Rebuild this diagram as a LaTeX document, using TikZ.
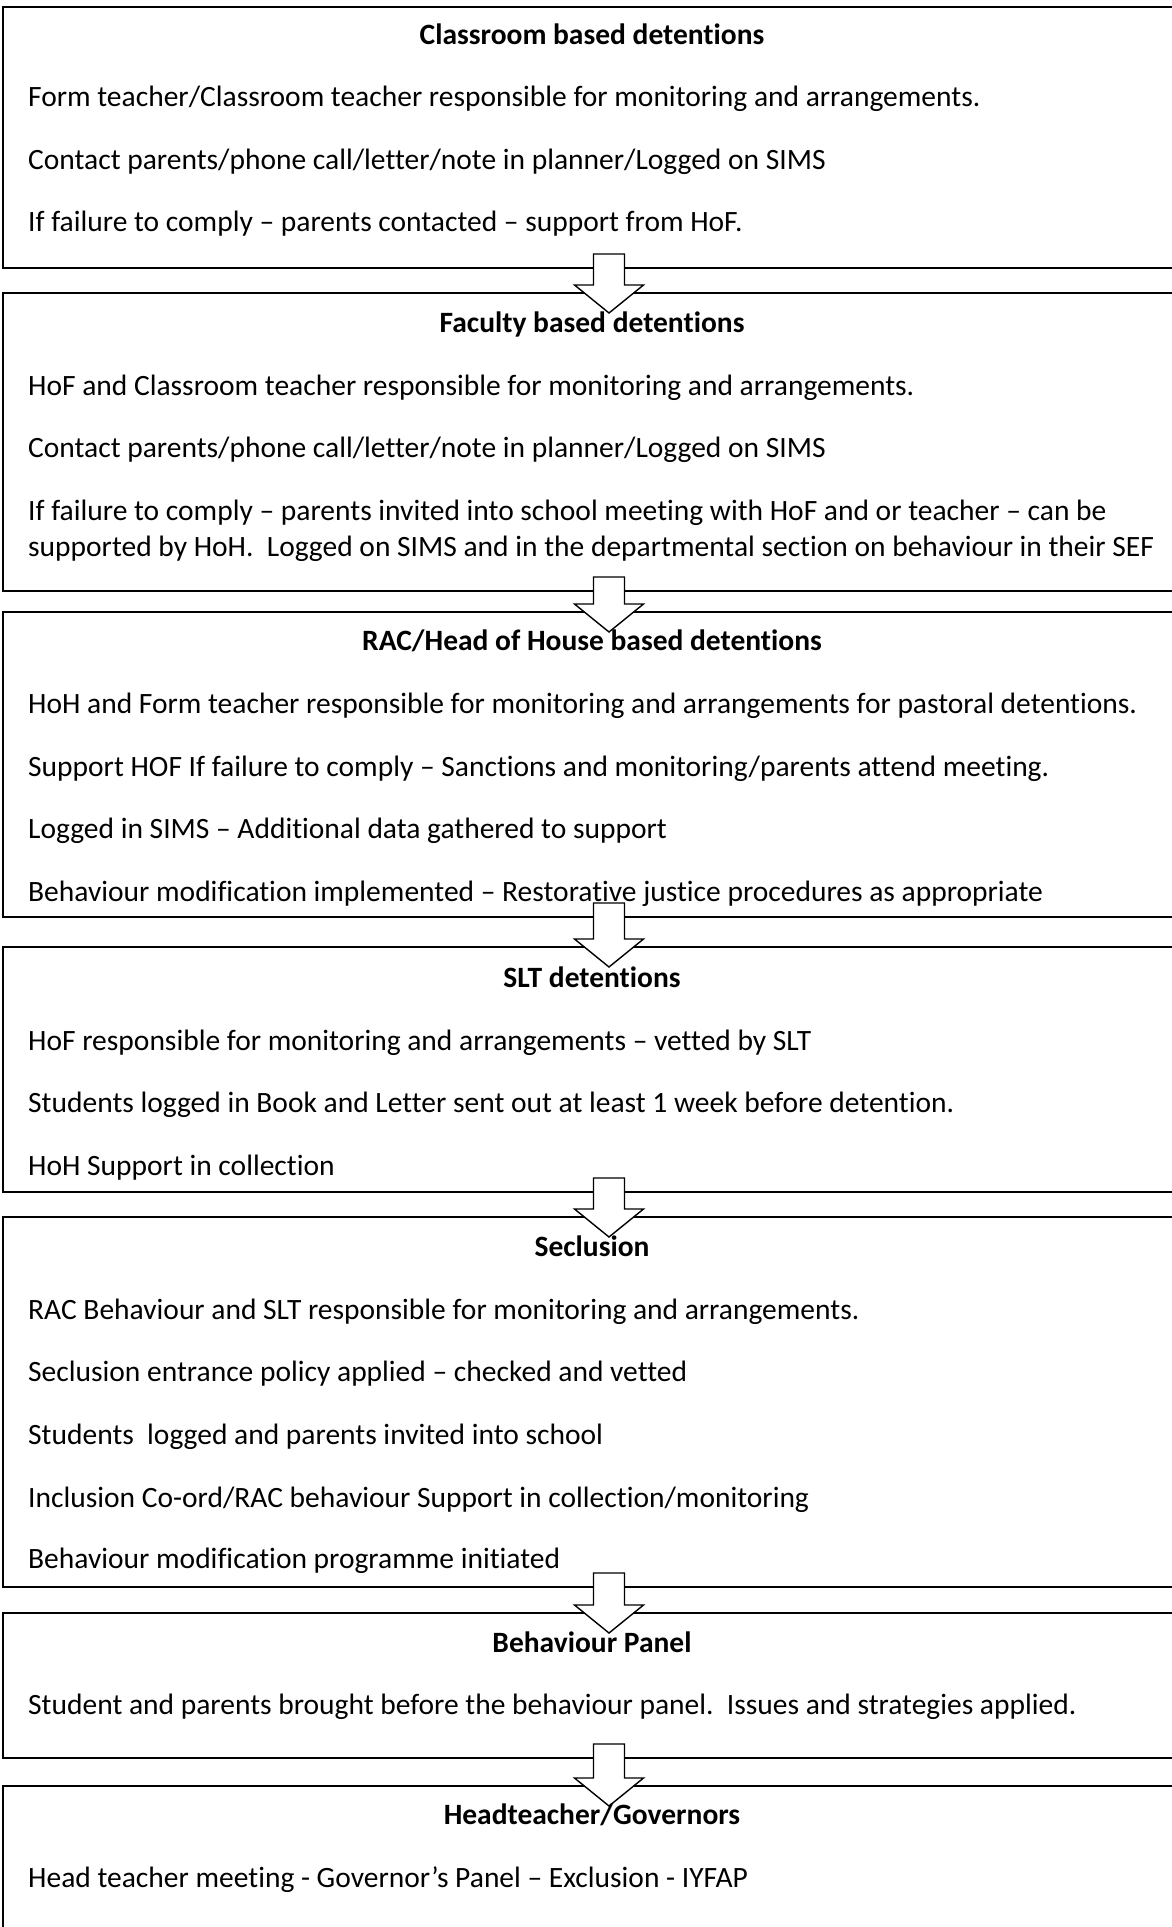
\documentclass[tikz,border=0pt]{standalone}
\usepackage{fontspec}
\setmainfont[Ligatures={NoCommon}]{Carlito}
\usepackage{tikz}
\usetikzlibrary{positioning,calc}

\tikzset{
  box/.style={draw=black, line width=2pt, fill=white, anchor=north west,
    minimum width=1212pt, inner sep=0pt, outer sep=0pt},
  downarrow/.style={draw=black, line width=1.4pt, fill=white, line join=miter},
  ttl/.style={font=\fontsize{29.5}{35}\selectfont\bfseries, anchor=base, inner sep=0pt},
  txt/.style={font=\fontsize{29.5}{35}\selectfont, anchor=base west, inner sep=0pt},
}

\begin{document}
\begin{tikzpicture}[x=1pt,y=1pt]
  \useasboundingbox (0,0) rectangle (1172,-1927);

  % the seven boxes
  \foreach \n/\t/\h in {1/7/261, 2/293/298, 3/612/305, 4/947/245,
                        5/1217/370, 6/1613/145, 7/1786/220} {
    \node[box, minimum height=\h pt] (b\n) at (3,-\t) {};
  }

  % block arrows between the boxes
  \foreach \a/\b in {1/2, 2/3, 3/4, 4/5, 5/6, 6/7} {
    \coordinate (s\a) at ($(b\a.south)+(0,14)$);
    \coordinate (e\a) at ($(b\b.north)+(0,-20)$);
    \draw[downarrow] ($(s\a)+(-15.5,0)$) -- ($(s\a)+(15.5,0)$)
      -- ($(e\a)+(15.5,28)$) -- ($(e\a)+(34.5,28)$) -- (e\a)
      -- ($(e\a)+(-34.5,28)$) -- ($(e\a)+(-15.5,28)$) -- cycle;
  }

  % Classroom
  \node[ttl] (h1) at (592,-45) {Classroom based detentions};
  \node[txt] (l1a) at (28,-106) {Form teacher/Classroom teacher responsible for monitoring and arrangements.};
  \node[txt] (l1b) at (28,-169) {Contact parents/phone call/letter/note in planner/Logged on SIMS};
  \node[txt] (l1c) at (28,-231) {If failure to comply – parents contacted – support from HoF.};

  % Faculty
  \node[ttl] (h2) at (592,-332) {Faculty based detentions};
  \node[txt] (l2a) at (28,-395) {HoF and Classroom teacher responsible for monitoring and arrangements.};
  \node[txt] (l2b) at (28,-457) {Contact parents/phone call/letter/note in planner/Logged on SIMS};
  \node[txt] (l2c) at (28,-520) {If failure to comply – parents invited into school meeting with HoF and or teacher – can be};
  \node[txt] (l2d) at (28,-556) {supported by HoH.\ \ Logged on SIMS and in the departmental section on behaviour in their SEF};

  % RAC / Head of House
  \node[ttl] (h3) at (592,-650) {RAC/Head of House based detentions};
  \node[txt] (l3a) at (28,-713) {HoH and Form teacher responsible for monitoring and arrangements for pastoral detentions.};
  \node[txt] (l3b) at (28,-776) {Support HOF If failure to comply – Sanctions and monitoring/parents attend meeting.};
  \node[txt] (l3c) at (28,-838) {Logged in SIMS – Additional data gathered to support};
  \node[txt] (l3d) at (28,-901) {Behaviour modification implemented – Restorative justice procedures as appropriate};

  % SLT
  \node[ttl] (h4) at (592,-987) {SLT detentions};
  \node[txt] (l4a) at (28,-1050) {HoF responsible for monitoring and arrangements – vetted by SLT};
  \node[txt] (l4b) at (28,-1112) {Students logged in Book and Letter sent out at least 1 week before detention.};
  \node[txt] (l4c) at (28,-1175) {HoH Support in collection};

  % Seclusion
  \node[ttl] (h5) at (592,-1256) {Seclusion};
  \node[txt] (l5a) at (28,-1319) {RAC Behaviour and SLT responsible for monitoring and arrangements.};
  \node[txt] (l5b) at (28,-1381) {Seclusion entrance policy applied – checked and vetted};
  \node[txt] (l5c) at (28,-1444) {Students\ \ logged and parents invited into school};
  \node[txt] (l5d) at (28,-1507) {Inclusion Co-ord/RAC behaviour Support in collection/monitoring};
  \node[txt] (l5e) at (28,-1568) {Behaviour modification programme initiated};

  % Panel
  \node[ttl] (h6) at (592,-1652) {Behaviour Panel};
  \node[txt] (l6a) at (28,-1714) {Student and parents brought before the behaviour panel.\ \ Issues and strategies applied.};

  % Head / Governors
  \node[ttl] (h7) at (592,-1824) {Headteacher/Governors};
  \node[txt] (l7a) at (28,-1887) {Head teacher meeting - Governor’s Panel – Exclusion - IYFAP};
\end{tikzpicture}
\end{document}
